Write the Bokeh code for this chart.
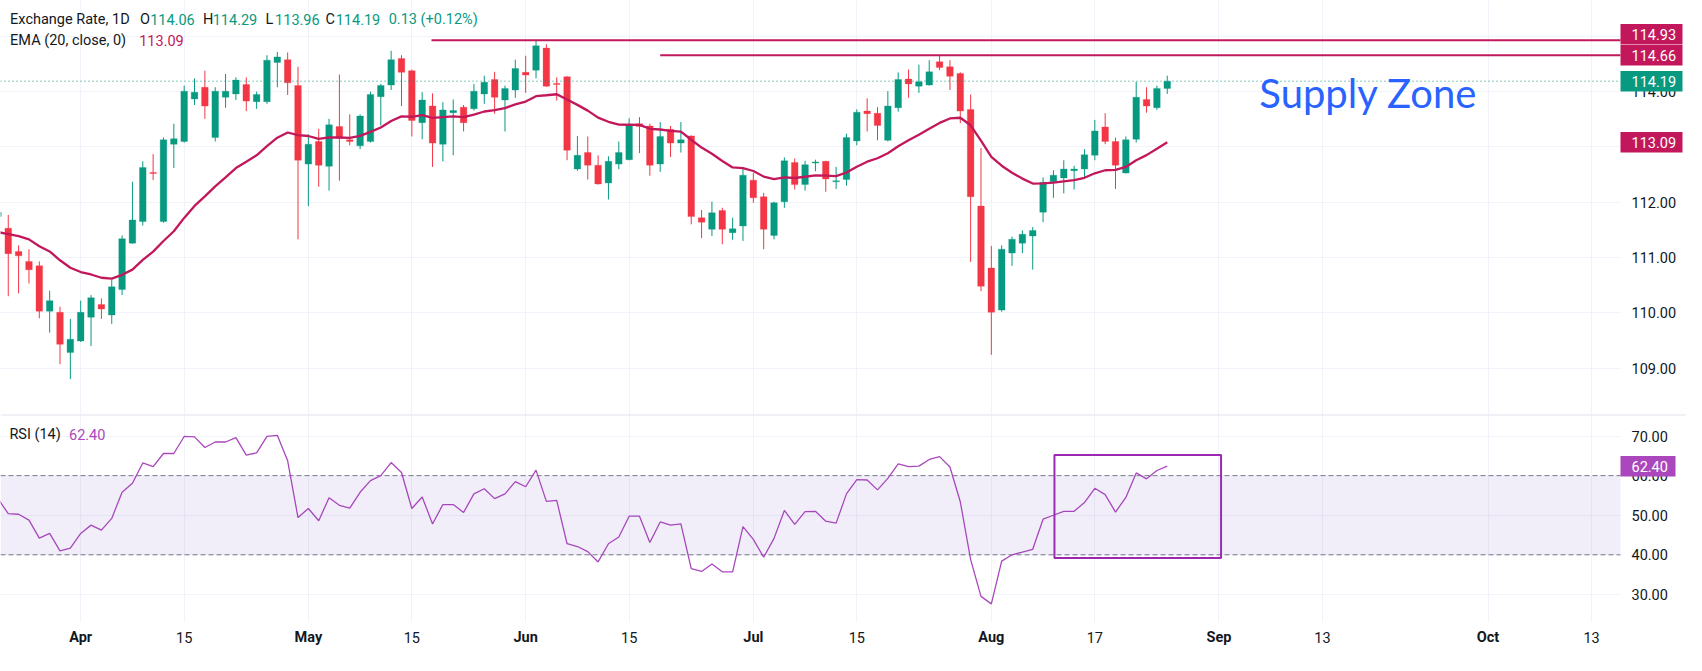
from bokeh.plotting import figure
from bokeh.models import (Range1d, FixedTicker, LinearAxis, Label, Span, ColumnDataSource,
                          BoxAnnotation, NumeralTickFormatter)
from bokeh.layouts import column
from bokeh.embed import file_html
from bokeh.resources import INLINE

# ---------------- data ----------------
opens = [111.74, 111.53, 111.11, 110.93, 110.85, 110.03, 110.01, 109.28, 109.49, 109.92,
         110.15, 109.96, 110.42, 111.26, 111.65, 112.54, 111.65, 113.05, 113.10, 113.87,
         114.08, 113.17, 113.90, 113.96, 114.13, 113.82, 113.82, 114.53, 114.58, 114.11,
         112.69, 113.10, 112.65, 113.37, 113.13, 113.02, 113.10, 113.91, 114.12, 114.60,
         114.38, 113.44, 113.74, 113.05, 113.62, 113.72, 113.69, 113.96, 114.22, 113.85,
         114.03, 114.35, 114.39, 114.79, 114.15, 114.27, 112.60, 112.90, 112.67, 112.35,
         112.69, 112.77, 113.42, 113.38, 112.69, 113.32, 113.07, 113.20, 111.72, 111.51,
         111.85, 111.45, 111.57, 112.40, 112.10, 111.40, 112.01, 112.72, 112.32, 112.71,
         112.74, 112.37, 112.41, 113.11, 113.65, 113.61, 113.12, 113.71, 114.23, 114.10,
         114.12, 114.54, 114.45, 114.33, 113.68, 111.93, 110.81, 110.05, 111.08, 111.26,
         111.39, 111.82, 112.37, 112.44, 112.57, 112.60, 112.85, 113.36, 113.10, 112.53,
         113.14, 113.86, 113.71, 114.06]
highs = [111.85, 111.77, 111.22, 111.15, 110.93, 110.40, 110.11, 109.89, 110.22, 110.32,
         110.26, 110.60, 111.40, 112.37, 112.74, 112.87, 113.17, 113.42, 114.11, 114.24,
         114.38, 114.08, 114.32, 114.26, 114.26, 114.00, 114.66, 114.72, 114.71, 114.45,
         113.23, 113.33, 113.51, 114.31, 113.59, 113.59, 114.00, 114.14, 114.74, 114.66,
         114.40, 113.99, 113.97, 113.81, 113.86, 113.76, 114.14, 114.29, 114.36, 114.11,
         114.58, 114.65, 114.92, 114.86, 114.26, 114.28, 113.20, 113.19, 112.85, 112.83,
         113.10, 113.52, 113.54, 113.42, 113.45, 113.38, 113.45, 113.21, 111.86, 112.01,
         111.90, 111.72, 112.63, 112.53, 112.17, 112.01, 112.81, 112.79, 112.75, 112.77,
         112.75, 112.64, 113.24, 113.68, 113.88, 113.72, 114.01, 114.35, 114.40, 114.49,
         114.57, 114.66, 114.57, 114.35, 113.95, 112.98, 111.21, 111.22, 111.38, 111.49,
         111.55, 112.45, 112.58, 112.76, 112.66, 112.96, 113.49, 113.61, 113.17, 113.19,
         114.18, 114.08, 114.11, 114.29]
lows = [111.70, 110.30, 110.35, 110.53, 109.90, 109.64, 109.07, 108.80, 109.47, 109.40,
        109.89, 109.80, 110.32, 111.25, 111.58, 112.40, 111.63, 112.62, 113.08, 113.76,
        113.51, 113.10, 113.71, 113.85, 113.65, 113.69, 113.78, 114.08, 113.94, 111.33,
        111.93, 112.28, 112.21, 112.39, 113.03, 112.96, 113.08, 113.39, 114.03, 113.74,
        113.19, 113.14, 112.64, 112.74, 112.85, 113.28, 113.66, 113.78, 113.60, 113.28,
        113.89, 113.98, 114.24, 114.09, 113.84, 112.76, 112.57, 112.41, 112.32, 112.05,
        112.60, 112.76, 112.89, 112.48, 112.55, 112.82, 112.90, 111.60, 111.35, 111.39,
        111.24, 111.32, 111.30, 111.99, 111.15, 111.33, 111.90, 112.23, 112.21, 112.56,
        112.19, 112.24, 112.30, 113.03, 113.28, 113.12, 113.10, 113.64, 113.89, 113.98,
        114.11, 114.39, 114.03, 113.43, 110.92, 110.39, 109.24, 110.02, 110.85, 111.08,
        110.78, 111.64, 112.08, 112.16, 112.23, 112.44, 112.76, 113.05, 112.24, 112.52,
        113.08, 113.62, 113.67, 113.96]
closes = [111.82, 111.07, 111.03, 110.78, 110.03, 110.22, 109.43, 109.52, 110.01, 110.27,
          110.07, 110.47, 111.34, 111.68, 112.63, 112.52, 113.13, 113.15, 114.01, 113.99,
          113.74, 114.01, 114.01, 114.21, 113.83, 113.95, 114.57, 114.63, 114.16, 112.76,
          113.05, 112.67, 113.40, 113.16, 113.10, 113.56, 113.95, 114.11, 114.58, 114.35,
          113.48, 113.85, 113.07, 113.67, 113.66, 113.44, 114.01, 114.17, 113.90, 114.06,
          114.42, 114.30, 114.83, 114.10, 114.13, 112.94, 112.85, 112.67, 112.33, 112.74,
          112.90, 113.39, 113.37, 112.67, 113.19, 113.07, 113.13, 111.74, 111.64, 111.81,
          111.51, 111.52, 112.49, 112.08, 111.51, 111.99, 112.75, 112.32, 112.68, 112.73,
          112.42, 112.39, 113.17, 113.63, 113.60, 113.39, 113.74, 114.22, 114.14, 114.18,
          114.36, 114.44, 114.28, 113.65, 112.10, 110.48, 110.01, 111.15, 111.33, 111.42,
          111.49, 112.36, 112.49, 112.60, 112.60, 112.86, 113.29, 113.10, 112.67, 113.13,
          113.90, 113.74, 114.06, 114.19]
rsi_values = [54.2, 50.4, 50.25, 48.75, 44.2, 45.4, 41.0, 41.7, 45.4, 47.5,
              46.25, 49.2, 55.8, 58.1, 63.2, 62.3, 65.6, 65.6, 69.9, 69.8,
              67.1, 68.5, 68.5, 69.6, 65.2, 65.75, 69.9, 70.2, 63.75, 49.4,
              51.7, 48.6, 54.4, 52.5, 51.8, 55.8, 58.75, 60.0, 63.3, 60.8,
              51.7, 54.6, 47.8, 52.7, 52.7, 50.7, 55.4, 56.7, 54.2, 55.4,
              58.5, 57.2, 61.4, 53.5, 53.75, 42.8, 42.1, 40.8, 38.2, 42.8,
              44.5, 49.75, 49.75, 43.1, 48.3, 47.5, 47.8, 36.5, 35.8, 37.7,
              35.7, 35.7, 47.1, 43.9, 39.4, 44.15, 51.2, 47.7, 50.9, 51.0,
              48.5, 48.0, 55.4, 59.0, 58.9, 56.4, 59.3, 63.0, 62.3, 62.4,
              64.1, 64.8, 62.2, 53.4, 38.8, 29.5, 27.6, 38.4, 40.0, 40.7,
              41.4, 49.0, 50.0, 51.0, 51.0, 53.2, 56.8, 55.2, 50.8, 54.5,
              60.7, 59.2, 61.3, 62.4]
ema_start = 111.46          # EMA(20) value at the first visible bar
ema_len = 20
ema_last_shown = 113.09     # EMA value printed in the legend / price scale
change_abs, change_pct = 0.13, 0.12

tick_pos = [8, 18, 30, 40, 51, 61, 73, 83, 96, 106, 118, 128, 144, 154]
tick_labels = ["Apr", "15", "May", "15", "Jun", "15", "Jul", "15", "Aug", "17",
               "Sep", "13", "Oct", "13"]
price_ticks = [109, 110, 111, 112, 113, 114, 115]
rsi_ticks = [30, 40, 50, 60, 70]
rsi_bands = [40, 60]
level_prices = [114.93, 114.66]
level_start_bar = [41.9, 64.0]
box_bars = [102.1, 118.2]
box_rsi = [39.2, 65.2]
zone_bar, zone_price = 121.9, 113.97

# ---------------- styles ----------------
GREEN, RED, DARK = "#089981", "#f23645", "#131722"
CRIMSON, PURPLE, BLUE = "#c2185b", "#ab47bc", "#2962ff"
GRID = "#f0f3fa"
FONT = "Roboto"
FS = "14.5px"
W = 1686
PRICE_H = 414
RSI_FRAME_H = 208
XAXIS_H = 33
SCALE_W = 66          # width of the price-scale strip on the right
TAG_H = 20.5          # height of a price-scale tag, px

n = len(closes)
idx = list(range(n))

# EMA(20, close) continued from the chart's value at the first bar
alpha = 2.0 / (ema_len + 1)
ema = [ema_start]
for c in closes[1:]:
    ema.append(ema[-1] + alpha * (c - ema[-1]))

x_start, x_edge = 0.25, 156.8
x_end = x_start + (x_edge - x_start) * W / (W - SCALE_W)
xr = Range1d(x_start, x_end)
x_per_px = (x_end - x_start) / W
price_range = Range1d(108.16, 115.65)
rsi_range = Range1d(22.9, 75.45)


def style_axis(ax):
    ax.axis_line_color = None
    ax.major_tick_line_color = None
    ax.minor_tick_line_color = None
    ax.major_tick_out = 0
    ax.major_tick_in = 0
    ax.major_label_text_font = FONT
    ax.major_label_text_font_size = FS
    ax.major_label_text_color = DARK


def tag(fig, frame_h, y, text, color, shift_px=0.0, width_px=62):
    """Coloured value tag on the price scale (box + white text)."""
    yr = fig.y_range
    per_px = (yr.end - yr.start) / frame_h
    yc = y + shift_px * per_px
    half = TAG_H / 2 * per_px
    fig.add_layout(BoxAnnotation(left=x_edge, right=x_edge + width_px * x_per_px,
                                 bottom=yc - half, top=yc + half,
                                 fill_color=color, fill_alpha=1.0, line_color=None,
                                 level="annotation"))
    fig.add_layout(Label(x=x_edge, y=yc, text=text, text_color="white",
                         text_font=FONT, text_font_size=FS, text_align="left",
                         text_baseline="middle", x_offset=11))


def screen_label(fig, x, y, text, color, size=FS, style="normal"):
    fig.add_layout(Label(x=x, y=y, x_units="screen", y_units="screen", text=text,
                         text_color=color, text_font=FONT, text_font_size=size,
                         text_align="left", text_baseline="middle", text_font_style=style))


def bound_ygrid(fig):
    try:
        fig.ygrid[0].cross_bounds = (x_start, x_edge)
    except Exception:
        pass


# ---------------- price pane ----------------
p = figure(width=W, height=PRICE_H, x_range=xr, y_range=price_range,
           y_axis_location="right", output_backend="svg", toolbar_location=None,
           min_border_left=0, min_border_right=0, min_border_top=0, min_border_bottom=0)
p.outline_line_color = None
p.xaxis.visible = False
p.xaxis.ticker = FixedTicker(ticks=tick_pos)
p.xgrid.ticker = FixedTicker(ticks=tick_pos)
p.yaxis.ticker = FixedTicker(ticks=price_ticks)
p.ygrid.ticker = FixedTicker(ticks=price_ticks)
p.yaxis.formatter = NumeralTickFormatter(format="0.00")
p.yaxis.major_label_standoff = 11
p.yaxis.fixed_location = x_edge
style_axis(p.yaxis[0])
p.grid.grid_line_color = GRID
bound_ygrid(p)

colors = [GREEN if closes[i] >= opens[i] else RED for i in idx]
src = ColumnDataSource(dict(
    x=idx, high=highs, low=lows,
    top=[max(opens[i], closes[i]) for i in idx],
    bottom=[min(opens[i], closes[i]) for i in idx],
    color=colors))
p.segment(x0="x", y0="low", x1="x", y1="high", line_color="color", line_width=1, source=src)
p.vbar(x="x", width=0.64, top="top", bottom="bottom", fill_color="color",
       line_color="color", line_width=0.3, source=src)

p.line(idx, ema, line_color=CRIMSON, line_width=2.3)

p.segment(x0=level_start_bar, y0=level_prices, x1=[x_edge] * 2, y1=level_prices,
          line_color=CRIMSON, line_width=2)
p.segment(x0=[x_start], y0=[closes[-1]], x1=[x_edge], y1=[closes[-1]],
          line_color=GREEN, line_dash="1 3", line_width=1)

p.add_layout(Label(x=zone_bar, y=zone_price, text="Supply Zone", text_color=BLUE,
                   text_font="Lato", text_font_size="40px", text_align="left",
                   text_baseline="middle"))

# legend texts
row1_y, row2_y = 394.6, 374.2
screen_label(p, 9.6, row1_y, "Exchange Rate, 1D", DARK)
screen_label(p, 139.4, row1_y, "O", DARK)
screen_label(p, 149.7, row1_y, f"{opens[-1]:.2f}", GREEN)
screen_label(p, 202.6, row1_y, "H", DARK)
screen_label(p, 212.2, row1_y, f"{highs[-1]:.2f}", GREEN)
screen_label(p, 265.1, row1_y, "L", DARK)
screen_label(p, 274.6, row1_y, f"{lows[-1]:.2f}", GREEN)
screen_label(p, 325.0, row1_y, "C", DARK)
screen_label(p, 335.2, row1_y, f"{closes[-1]:.2f}", GREEN)
screen_label(p, 388.2, row1_y, f"{change_abs:.2f} (+{change_pct:.2f}%)", GREEN)
screen_label(p, 9.6, row2_y, "EMA (20, close, 0)", DARK)
screen_label(p, 138.7, row2_y, f"{ema_last_shown:.2f}", CRIMSON)

tag(p, PRICE_H, level_prices[0], f"{level_prices[0]:.2f}", CRIMSON, shift_px=6)
tag(p, PRICE_H, level_prices[1], f"{level_prices[1]:.2f}", CRIMSON)
tag(p, PRICE_H, closes[-1], f"{closes[-1]:.2f}", GREEN)
tag(p, PRICE_H, ema[-1], f"{ema_last_shown:.2f}", CRIMSON)

# ---------------- RSI pane ----------------
r = figure(width=W, height=RSI_FRAME_H + XAXIS_H, x_range=xr, y_range=rsi_range,
           y_axis_location="right", output_backend="svg", toolbar_location=None,
           min_border_left=0, min_border_right=0, min_border_top=0,
           min_border_bottom=XAXIS_H)
r.outline_line_color = None
r.grid.grid_line_color = GRID
r.xgrid.ticker = FixedTicker(ticks=tick_pos)
r.yaxis.ticker = FixedTicker(ticks=rsi_ticks)
r.ygrid.ticker = FixedTicker(ticks=rsi_ticks)
r.yaxis.formatter = NumeralTickFormatter(format="0.00")
r.yaxis.major_label_standoff = 11
r.yaxis.fixed_location = x_edge
style_axis(r.yaxis[0])
bound_ygrid(r)

day_pos = [t for t, l in zip(tick_pos, tick_labels) if l.isdigit()]
month_pos = [t for t, l in zip(tick_pos, tick_labels) if not l.isdigit()]
r.xaxis.ticker = FixedTicker(ticks=day_pos)
r.xaxis.major_label_overrides = {t: l for t, l in zip(tick_pos, tick_labels) if l.isdigit()}
r.xaxis.major_label_standoff = 9
style_axis(r.xaxis[0])
ax_m = LinearAxis(ticker=FixedTicker(ticks=month_pos),
                  major_label_overrides={t: l for t, l in zip(tick_pos, tick_labels) if not l.isdigit()},
                  major_label_standoff=-17)
style_axis(ax_m)
ax_m.major_label_text_font_style = "bold"
r.add_layout(ax_m, "below")

r.add_layout(BoxAnnotation(bottom=rsi_bands[0], top=rsi_bands[1], right=x_edge,
                           fill_color="#7e57c2", fill_alpha=0.1, line_color=None))
r.segment(x0=[x_start] * 2, y0=rsi_bands, x1=[x_edge] * 2, y1=rsi_bands,
          line_color="#787b86", line_dash="5 3", line_width=1)
r.add_layout(Span(location=rsi_range.end, dimension="width", line_color="#e0e3eb",
                  line_width=2))
r.line(idx, rsi_values, line_color=PURPLE, line_width=1.3)
r.quad(left=[box_bars[0]], right=[box_bars[1]], bottom=[box_rsi[0]], top=[box_rsi[1]],
       fill_alpha=0, line_color="#9c27b0", line_width=2)

screen_label(r, 8.9, 188, "RSI (14)", DARK)
screen_label(r, 68.5, 188, f"{rsi_values[-1]:.2f}", PURPLE)
tag(r, RSI_FRAME_H, rsi_values[-1], f"{rsi_values[-1]:.2f}", PURPLE, width_px=55)

layout = column(p, r, spacing=0)
open("out.html", "w").write(file_html(layout, INLINE))
